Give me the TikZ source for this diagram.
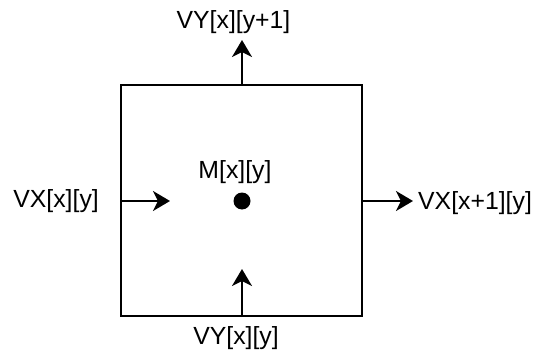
\documentclass[tikz,border=0pt]{standalone}
\usepackage{fontspec}
\setmainfont{Liberation Sans}
\usetikzlibrary{arrows.meta}
\begin{document}
\begin{tikzpicture}[x=1pt,y=-1pt,
  lbl/.style={inner sep=0pt, font=\fontsize{24.8}{29}\selectfont},
  arr/.style={line width=2pt, -{Stealth[length=17pt,width=20pt,inset=5pt]}}]
\useasboundingbox (0,0) rectangle (541,353);
\node[draw, line width=2pt, minimum width=241pt, minimum height=231pt, inner sep=0pt] (box) at (241.5,200.5) {};
\fill (242,201) circle (8.5pt);
\node[lbl] (m) at (235,172) {M[x][y]};
\coordinate (tt) at (242,40);
\coordinate (bt) at (242,269);
\coordinate (lt) at (170,201);
\coordinate (rt) at (413,201);
\coordinate (ls) at (box.west |- lt);
\coordinate (rs) at (box.east |- rt);
\coordinate (ts) at (box.north -| tt);
\coordinate (bs) at (box.south -| bt);
\draw[arr] (ts) -- (tt);
\draw[arr] (bs) -- (bt);
\draw[arr] (ls) -- (lt);
\draw[arr] (rs) -- (rt);
\node[lbl] (top) at (233.5,22) {VY[x][y+1]};
\node[lbl] (bot) at (236,338) {VY[x][y]};
\node[lbl, anchor=east] (left) at (99,201) {VX[x][y]};
\node[lbl, anchor=west] (right) at (418,203) {VX[x+1][y]};
\end{tikzpicture}
\end{document}
